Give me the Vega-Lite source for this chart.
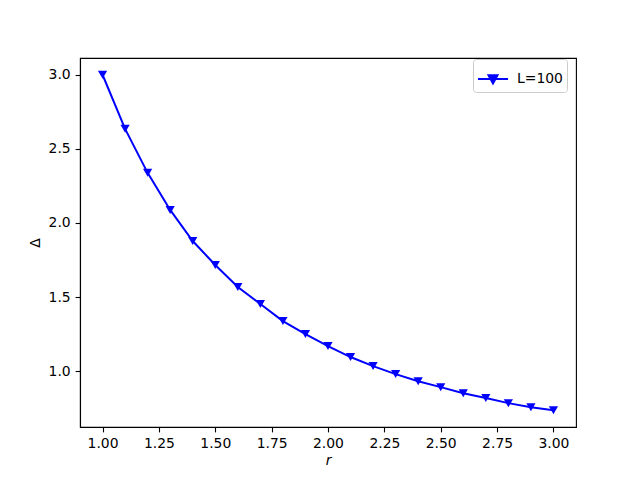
{
  "$schema": "https://vega.github.io/schema/vega-lite/v6.json",
  "width": 496,
  "height": 369,
  "autosize": {"type": "none"},
  "padding": {"left": 80, "top": 58, "right": 64, "bottom": 53},
  "background": "white",
  "config": {
    "font": "DejaVu Sans",
    "view": {"stroke": "black", "strokeWidth": 1.1},
    "axis": {
      "grid": false,
      "domainColor": "black",
      "domainWidth": 1.1,
      "tickColor": "black",
      "tickWidth": 1.1,
      "tickSize": 4.9,
      "labelFont": "DejaVu Sans",
      "labelFontSize": 13.9,
      "labelColor": "black",
      "labelPadding": 4.9,
      "titleFont": "DejaVu Sans",
      "titleFontSize": 13.9,
      "titleFontWeight": "normal",
      "titleColor": "black"
    }
  },
  "data": {
    "values": [
      {"r": 1.0, "delta": 3.0, "series": "L=100"},
      {"r": 1.1, "delta": 2.635, "series": "L=100"},
      {"r": 1.2, "delta": 2.338, "series": "L=100"},
      {"r": 1.3, "delta": 2.088, "series": "L=100"},
      {"r": 1.4, "delta": 1.878, "series": "L=100"},
      {"r": 1.5, "delta": 1.716, "series": "L=100"},
      {"r": 1.6, "delta": 1.568, "series": "L=100"},
      {"r": 1.7, "delta": 1.453, "series": "L=100"},
      {"r": 1.8, "delta": 1.338, "series": "L=100"},
      {"r": 1.9, "delta": 1.25, "series": "L=100"},
      {"r": 2.0, "delta": 1.169, "series": "L=100"},
      {"r": 2.1, "delta": 1.095, "series": "L=100"},
      {"r": 2.2, "delta": 1.034, "series": "L=100"},
      {"r": 2.3, "delta": 0.98, "series": "L=100"},
      {"r": 2.4, "delta": 0.932, "series": "L=100"},
      {"r": 2.5, "delta": 0.892, "series": "L=100"},
      {"r": 2.6, "delta": 0.851, "series": "L=100"},
      {"r": 2.7, "delta": 0.818, "series": "L=100"},
      {"r": 2.8, "delta": 0.784, "series": "L=100"},
      {"r": 2.9, "delta": 0.757, "series": "L=100"},
      {"r": 3.0, "delta": 0.736, "series": "L=100"}
    ]
  },
  "mark": {
    "type": "line",
    "strokeWidth": 2,
    "point": {"shape": "triangle-down", "filled": true, "size": 85}
  },
  "encoding": {
    "x": {
      "field": "r",
      "type": "quantitative",
      "scale": {"domain": [0.9, 3.1], "nice": false, "zero": false},
      "axis": {
        "title": "r",
        "titleFontStyle": "italic",
        "titlePadding": 3,
        "values": [1.0, 1.25, 1.5, 1.75, 2.0, 2.25, 2.5, 2.75, 3.0],
        "format": ".2f"
      }
    },
    "y": {
      "field": "delta",
      "type": "quantitative",
      "scale": {"domain": [0.623, 3.113], "nice": false, "zero": false},
      "axis": {
        "title": "Δ",
        "titlePadding": 6,
        "values": [1.0, 1.5, 2.0, 2.5, 3.0],
        "format": ".1f"
      }
    },
    "color": {
      "field": "series",
      "type": "nominal",
      "scale": {"range": ["blue"]},
      "legend": {
        "title": null,
        "orient": "none",
        "legendX": 393,
        "legendY": 1,
        "strokeColor": "#cccccc",
        "fillColor": "white",
        "cornerRadius": 3,
        "padding": 4,
        "labelFont": "DejaVu Sans",
        "labelFontSize": 13.9,
        "labelColor": "black",
        "symbolType": "M-1,0H1M-0.3,-0.25L0.3,-0.25L0,0.3Z",
        "symbolSize": 900,
        "symbolStrokeWidth": 2,
        "symbolFillColor": "blue",
        "symbolStrokeColor": "blue",
        "labelOffset": 8
      }
    }
  }
}
